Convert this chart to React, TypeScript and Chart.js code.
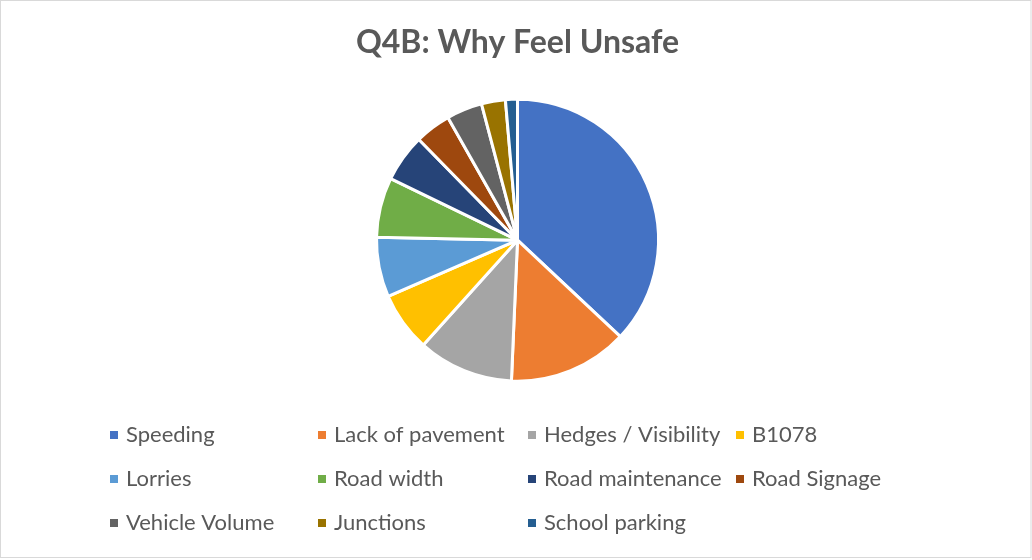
import React, { useEffect, useRef } from "react";
import { Chart, registerables } from "chart.js";

Chart.register(...registerables);

const chartTitle = "Q4B: Why Feel Unsafe";
const categories = [
  "Speeding",
  "Lack of pavement",
  "Hedges / Visibility",
  "B1078",
  "Lorries",
  "Road width",
  "Road maintenance",
  "Road Signage",
  "Vehicle Volume",
  "Junctions",
  "School parking",
];
const responses = [27, 10, 8, 5, 5, 5, 4, 3, 3, 2, 1];
const sliceColors = [
  "#4472C4",
  "#ED7D31",
  "#A5A5A5",
  "#FFC000",
  "#5B9BD5",
  "#70AD47",
  "#264478",
  "#9E480E",
  "#636363",
  "#997300",
  "#255E91",
];

const FONT = "Lato, 'Open Sans', sans-serif";
const TEXT_COLOR = "#595959";

const frameBackground = {
  id: "frameBackground",
  beforeDraw(chart: any) {
    const { ctx, width, height } = chart;
    ctx.save();
    ctx.fillStyle = "#FFFFFF";
    ctx.fillRect(0, 0, width, height);
    ctx.strokeStyle = "#D9D9D9";
    ctx.lineWidth = 1;
    ctx.strokeRect(0.5, 0.5, width - 1.5, height - 3);
    ctx.restore();
  },
};

const gridLegend = {
  id: "gridLegend",
  afterDraw(chart: any) {
    const { ctx } = chart;
    const labels: string[] = chart.data.labels;
    const colors: string[] = chart.data.datasets[0].backgroundColor;
    const colX = [110, 318, 528, 736];
    const rowY = [435, 479, 523];
    ctx.save();
    ctx.font = `22px ${FONT}`;
    ctx.textBaseline = "middle";
    ctx.textAlign = "left";
    labels.forEach((label, i) => {
      const x = colX[i % 4];
      const y = rowY[Math.floor(i / 4)];
      ctx.fillStyle = colors[i];
      ctx.fillRect(x, y - 4, 8, 8);
      ctx.fillStyle = TEXT_COLOR;
      ctx.fillText(label, x + 16, y);
    });
    ctx.restore();
  },
};

export default function App() {
  const canvasRef = useRef<HTMLCanvasElement | null>(null);

  useEffect(() => {
    if (!canvasRef.current) return;
    const chart = new Chart(canvasRef.current, {
      type: "pie",
      data: {
        labels: categories,
        datasets: [
          {
            data: responses,
            backgroundColor: sliceColors,
            borderColor: "#FFFFFF",
            borderWidth: 3,
            radius: 141,
          },
        ],
      },
      options: {
        responsive: false,
        animation: false,
        layout: { padding: { top: 0, left: 3, right: 0, bottom: 159 } },
        plugins: {
          legend: { display: false },
          tooltip: { enabled: false },
          title: {
            display: true,
            text: chartTitle,
            color: TEXT_COLOR,
            font: { family: FONT, size: 32, weight: "bold", lineHeight: 1.2 },
            padding: { top: 23, bottom: 18 },
          },
        },
      },
      plugins: [frameBackground, gridLegend],
    });
    return () => chart.destroy();
  }, []);

  return (
    <div style={{ position: "absolute", left: 0, top: 0, width: 1032, height: 560 }}>
      <canvas ref={canvasRef} width={1032} height={560} style={{ display: "block" }} />
    </div>
  );
}
